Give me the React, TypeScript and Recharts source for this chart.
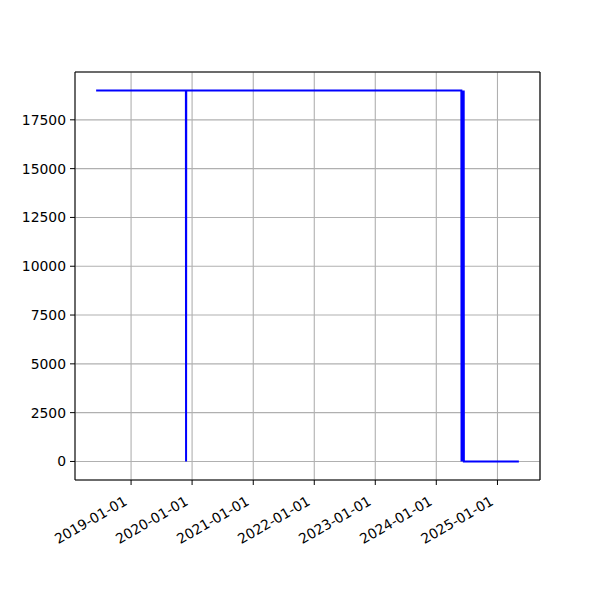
import { LineChart, Line, XAxis, YAxis, CartesianGrid, ReferenceLine } from "recharts"

// observation dates and their values (step-like series)
const dates = [
  "2018-06-06",
  "2019-11-25",
  "2019-11-26",
  "2019-11-27",
  "2024-05-30",
  "2024-05-31",
  "2024-06-03",
  "2024-06-05",
  "2024-06-08",
  "2024-06-10",
  "2024-06-13",
  "2024-06-14",
  "2025-05-09",
]
const values = [19000, 19000, 0, 19000, 19000, 0, 19000, 0, 19000, 0, 19000, 0, 0]

const yearTicks = ["2019-01-01", "2020-01-01", "2021-01-01", "2022-01-01", "2023-01-01", "2024-01-01", "2025-01-01"]
const yTicks = [0, 2500, 5000, 7500, 10000, 12500, 15000, 17500]

const data = dates.map((d, i) => ({ t: Date.parse(d), v: values[i] }))

const tMin = Date.parse(dates[0])
const tMax = Date.parse(dates[dates.length - 1])
const tPad = (tMax - tMin) * 0.05
const xDomain = [tMin - tPad, tMax + tPad]
const yDomain = [-950, 19950]

const font = "'DejaVu Sans', sans-serif"

function fmtDate(t: number) {
  const d = new Date(t)
  const m = String(d.getUTCMonth() + 1).padStart(2, "0")
  const day = String(d.getUTCDate()).padStart(2, "0")
  return `${d.getUTCFullYear()}-${m}-${day}`
}

function DateTick(props: any) {
  const { x, y, payload } = props
  const ax = x - 3
  const ay = y + 17
  return (
    <text
      x={ax}
      y={ay}
      textAnchor="end"
      fontSize={13.9}
      fontFamily={font}
      fill="#000"
      transform={`rotate(-30, ${ax}, ${ay})`}
    >
      {fmtDate(payload.value)}
    </text>
  )
}

export default function App() {
  return (
    <div style={{ position: "absolute", left: 0, top: 0, width: 600, height: 600, background: "#fff" }}>
      <LineChart width={600} height={600} data={data} margin={{ top: 72, right: 60, left: 0, bottom: 0 }}>
        <CartesianGrid stroke="#b0b0b0" strokeWidth={1.1} />
        <XAxis
          dataKey="t"
          type="number"
          scale="time"
          domain={xDomain}
          ticks={yearTicks.map((d) => Date.parse(d))}
          interval={0}
          height={120}
          tick={<DateTick />}
          tickSize={5}
          stroke="#000"
          allowDataOverflow
        />
        <YAxis
          type="number"
          domain={yDomain}
          ticks={yTicks}
          interval={0}
          width={75}
          tickSize={5}
          tickMargin={4}
          stroke="#000"
          tick={{ fontSize: 13.9, fontFamily: font, fill: "#000" }}
          allowDataOverflow
        />
        {/* top and right spines */}
        <ReferenceLine y={yDomain[1]} stroke="#000" strokeWidth={1.1} />
        <ReferenceLine x={xDomain[1]} stroke="#000" strokeWidth={1.1} />
        <Line
          dataKey="v"
          type="linear"
          stroke="#0000ff"
          strokeWidth={2}
          dot={false}
          isAnimationActive={false}
        />
      </LineChart>
    </div>
  )
}
